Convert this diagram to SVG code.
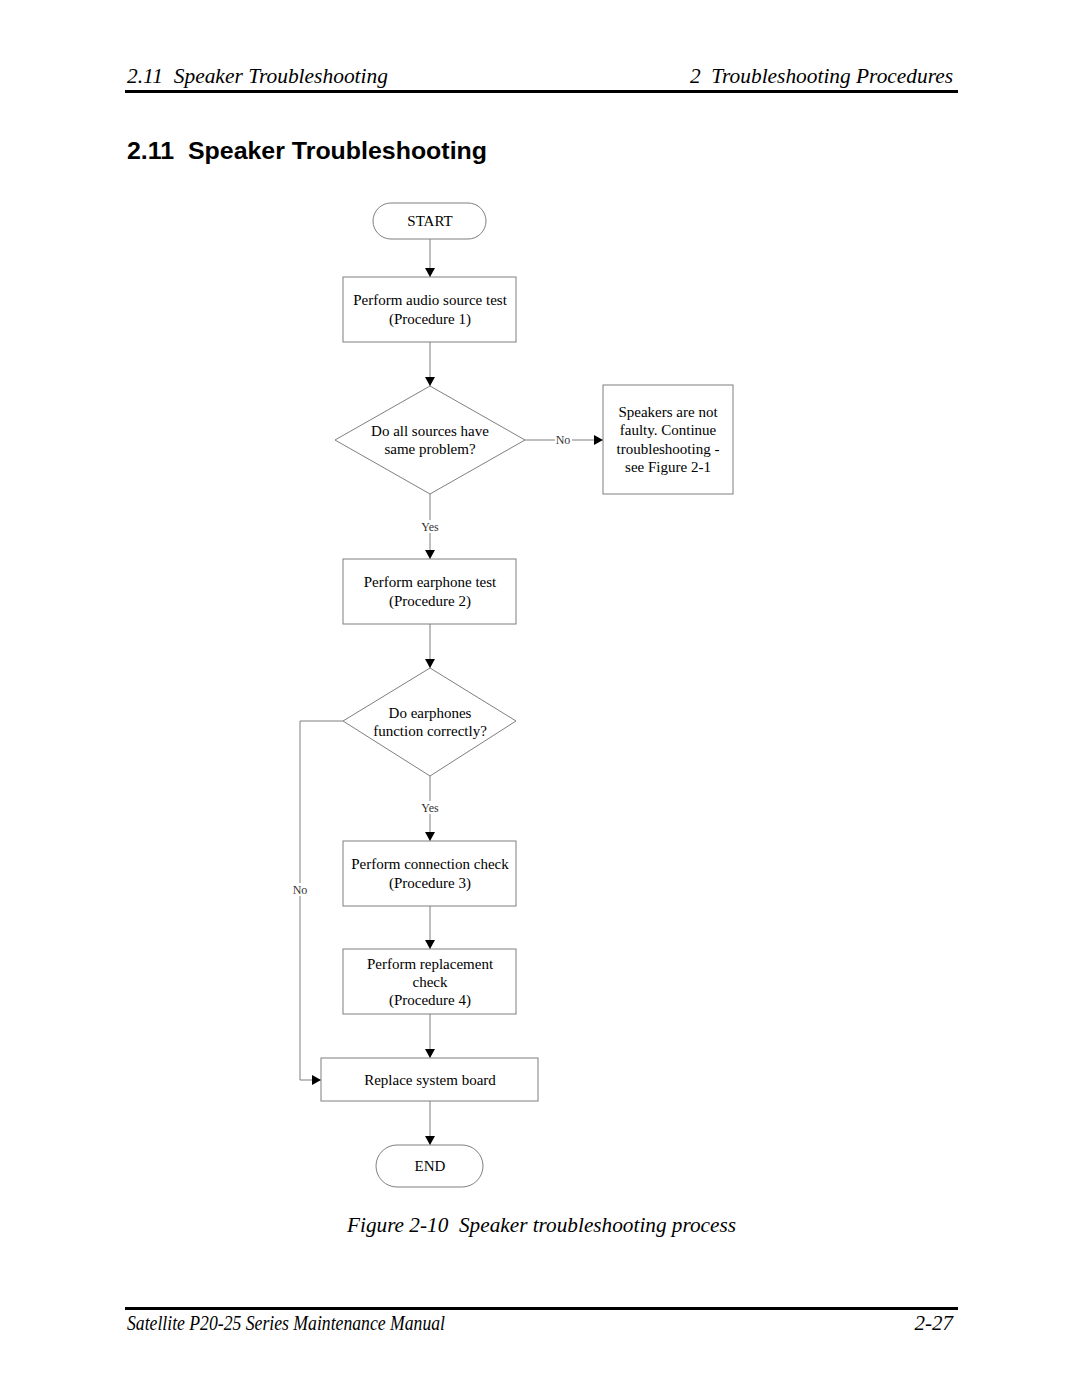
<svg xmlns="http://www.w3.org/2000/svg" width="1080" height="1397" viewBox="0 0 1080 1397">
<defs>
<marker id="ah" markerWidth="10" markerHeight="10" refX="9" refY="5" orient="auto" markerUnits="userSpaceOnUse">
<path d="M0,0 L9,5 L0,10 Z" fill="#000"/>
</marker>
<style>
.n{fill:#fff;stroke:#7f7f7f;stroke-width:1}
.t{font-family:"Liberation Serif","Times New Roman",serif;font-size:15px;fill:#000;text-anchor:middle}
.l{font-family:"Liberation Serif","Times New Roman",serif;font-size:12px;fill:#333;text-anchor:middle}
.c{fill:none;stroke:#7f7f7f;stroke-width:1}
.hd{font-family:"Liberation Serif","Times New Roman",serif;font-style:italic;font-size:21px;fill:#000}
</style>
</defs>
<rect width="1080" height="1397" fill="#fff"/>
<g id="header">
<text class="hd" x="127" y="83" textLength="261" lengthAdjust="spacingAndGlyphs" xml:space="preserve">2.11  Speaker Troubleshooting</text>
<text class="hd" x="953" y="83" text-anchor="end" textLength="263" lengthAdjust="spacingAndGlyphs" xml:space="preserve">2  Troubleshooting Procedures</text>
<rect x="125" y="90" width="833" height="3" fill="#000"/>
<text x="127" y="159" font-family="'Liberation Sans',Arial,sans-serif" font-weight="bold" font-size="24px" textLength="360" lengthAdjust="spacingAndGlyphs" xml:space="preserve">2.11  Speaker Troubleshooting</text>
</g>
<g id="connectors">
<line class="c" x1="430" y1="239" x2="430" y2="277" marker-end="url(#ah)"/>
<line class="c" x1="430" y1="342" x2="430" y2="386" marker-end="url(#ah)"/>
<line class="c" x1="525" y1="440" x2="603" y2="440" marker-end="url(#ah)"/>
<rect x="555" y="433" width="17" height="13" fill="#fff"/>
<text class="l" x="563" y="444">No</text>
<line class="c" x1="430" y1="494" x2="430" y2="559" marker-end="url(#ah)"/>
<rect x="418" y="520" width="24" height="13" fill="#fff"/>
<text class="l" x="430" y="531">Yes</text>
<line class="c" x1="430" y1="624" x2="430" y2="668" marker-end="url(#ah)"/>
<line class="c" x1="430" y1="776" x2="430" y2="841" marker-end="url(#ah)"/>
<rect x="418" y="801" width="24" height="13" fill="#fff"/>
<text class="l" x="430" y="812">Yes</text>
<polyline class="c" points="343,721 300,721 300,1080 321,1080" marker-end="url(#ah)"/>
<rect x="291" y="883" width="18" height="13" fill="#fff"/>
<text class="l" x="300" y="894">No</text>
<line class="c" x1="430" y1="906" x2="430" y2="949" marker-end="url(#ah)"/>
<line class="c" x1="430" y1="1014" x2="430" y2="1058" marker-end="url(#ah)"/>
<line class="c" x1="430" y1="1101" x2="430" y2="1145" marker-end="url(#ah)"/>
</g>
<g id="start">
<rect class="n" x="373" y="203" width="113" height="36" rx="18" ry="18"/>
<text class="t" x="430" y="226">START</text>
</g>
<g id="proc1">
<rect class="n" x="343" y="277" width="173" height="65"/>
<text class="t" x="430" y="305">Perform audio source test</text>
<text class="t" x="430" y="324">(Procedure 1)</text>
</g>
<g id="dec1">
<polygon class="n" points="430,386 525,440 430,494 335,440"/>
<text class="t" x="430" y="436">Do all sources have</text>
<text class="t" x="430" y="454">same problem?</text>
</g>
<g id="notfaulty">
<rect class="n" x="603" y="385" width="130" height="109"/>
<text class="t" x="668" y="417">Speakers are not</text>
<text class="t" x="668" y="435">faulty. Continue</text>
<text class="t" x="668" y="454">troubleshooting -</text>
<text class="t" x="668" y="472">see Figure 2-1</text>
</g>
<g id="proc2">
<rect class="n" x="343" y="559" width="173" height="65"/>
<text class="t" x="430" y="587">Perform earphone test</text>
<text class="t" x="430" y="606">(Procedure 2)</text>
</g>
<g id="dec2">
<polygon class="n" points="430,668 516,721 430,776 343,721"/>
<text class="t" x="430" y="718">Do earphones</text>
<text class="t" x="430" y="736">function correctly?</text>
</g>
<g id="proc3">
<rect class="n" x="343" y="841" width="173" height="65"/>
<text class="t" x="430" y="869">Perform connection check</text>
<text class="t" x="430" y="888">(Procedure 3)</text>
</g>
<g id="proc4">
<rect class="n" x="343" y="949" width="173" height="65"/>
<text class="t" x="430" y="969">Perform replacement</text>
<text class="t" x="430" y="987">check</text>
<text class="t" x="430" y="1005">(Procedure 4)</text>
</g>
<g id="replace">
<rect class="n" x="321" y="1058" width="217" height="43"/>
<text class="t" x="430" y="1085">Replace system board</text>
</g>
<g id="end">
<rect class="n" x="376" y="1145" width="107" height="42" rx="21" ry="21"/>
<text class="t" x="430" y="1171">END</text>
</g>
<g id="footer">
<text class="hd" x="347" y="1232" textLength="389" lengthAdjust="spacingAndGlyphs" xml:space="preserve">Figure 2-10  Speaker troubleshooting process</text>
<rect x="125" y="1307" width="833" height="3" fill="#000"/>
<text class="hd" x="127" y="1330" font-size="17px" textLength="318" lengthAdjust="spacingAndGlyphs">Satellite P20-25 Series Maintenance Manual</text>
<text class="hd" x="953" y="1330" font-size="17px" text-anchor="end">2-27</text>
</g>
</svg>
